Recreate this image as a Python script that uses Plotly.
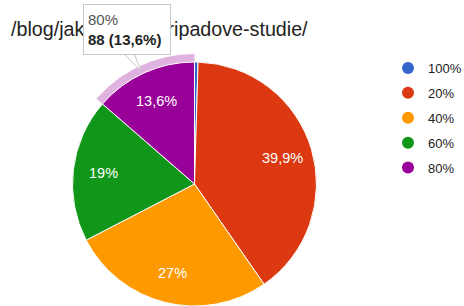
import numpy as np
import plotly.graph_objects as go

# ---- data ----
title_text = "/blog/jak-napsat-pripadove-studie/"
labels = ["100%", "20%", "40%", "60%", "80%"]
values = [3, 258, 175, 123, 88]
colors = ["#3366cc", "#dc3912", "#ff9900", "#109618", "#990099"]
highlight_index = 4  # slice hovered in the screenshot

W, H = 464, 306
CX, CY, R = 194.5, 184.0, 122.0
RING = 8.0
LABEL_R = 0.75
FONT = "Liberation Sans, Arial, sans-serif"

total = sum(values)


def fmt_pct(v):
    p = v / total * 100
    s = f"{p:.1f}"
    if s.endswith(".0"):
        s = s[:-2]
    return s.replace(".", ",") + "%"


fig = go.Figure()

# highlight ring around hovered slice, computed from the data
cum = np.concatenate([[0], np.cumsum(values)]) / total * 360
start, end = cum[highlight_index], cum[highlight_index + 1]
th = np.radians(np.linspace(start, end, 60))
xo = CX + (R + RING) * np.sin(th)
yo = CY - (R + RING) * np.cos(th)
xi = CX + R * np.sin(th[::-1])
yi = CY - R * np.cos(th[::-1])
fig.add_trace(go.Scatter(
    x=np.concatenate([xo, xi, xo[:1]]), y=np.concatenate([yo, yi, yo[:1]]),
    mode="lines", fill="toself", fillcolor="#e0b2e0",
    line=dict(width=0, color="#e0b2e0"), hoverinfo="skip", showlegend=False,
))

fig.add_trace(go.Pie(
    labels=labels, values=values, textinfo="none",
    marker=dict(colors=colors, line=dict(color="white", width=1)),
    sort=False, direction="clockwise", rotation=0,
    showlegend=False, hoverinfo="none",
    domain=dict(x=[(CX - R) / W, (CX + R) / W], y=[1 - (CY + R) / H, 1 - (CY - R) / H]),
))

# legend entries with round symbols
for i, (lab, col) in enumerate(zip(labels, colors)):
    fig.add_trace(go.Scatter(
        x=[None], y=[None], mode="markers", name=lab,
        marker=dict(color=col, size=12, symbol="circle"),
        legendgroup=f"g{i}", showlegend=True,
    ))

# slice labels placed Google-style, from the slice mid-angles
slice_labels = []
for i, v in enumerate(values):
    if v / total < 0.01:
        continue
    mid = np.radians((cum[i] + cum[i + 1]) / 2)
    slice_labels.append(dict(
        text=fmt_pct(v), x=CX + LABEL_R * R * np.sin(mid), y=CY - LABEL_R * R * np.cos(mid),
        xref="x", yref="y", showarrow=False, xanchor="center", yanchor="middle",
        font=dict(size=14.5, color="white", family=FONT)))

tip_text = (f"<span style='color:#555555'>{labels[highlight_index]}</span><br>"
            f"<b>{values[highlight_index]} ({fmt_pct(values[highlight_index])})</b>")

fig.update_layout(
    width=W, height=H,
    margin=dict(l=0, r=0, t=0, b=0, autoexpand=False),
    paper_bgcolor="white", plot_bgcolor="white",
    font=dict(family=FONT, color="#222222"),
    xaxis=dict(range=[0, W], visible=False, fixedrange=True),
    yaxis=dict(range=[H, 0], visible=False, fixedrange=True),
    showlegend=True,
    legend=dict(x=388 / W, y=1 - 53 / H, xanchor="left", yanchor="top",
                font=dict(size=13, color="#222222"), bgcolor="rgba(0,0,0,0)",
                traceorder="grouped", tracegroupgap=5, itemsizing="constant"),
    annotations=slice_labels + [
        dict(text=title_text, x=9, y=29, xref="x", yref="y", xanchor="left",
             yanchor="middle", showarrow=False,
             font=dict(size=19.7, color="#222222", family=FONT)),
        dict(text=tip_text, x=83, y=4, xref="x", yref="y", xanchor="left",
             yanchor="top", showarrow=False, align="left", width=78, height=41,
             bgcolor="white", bordercolor="#c8c8c8", borderwidth=1, borderpad=4,
             font=dict(size=15, color="#222222", family=FONT)),
    ],
    shapes=[
        dict(type="path", xref="x", yref="y", layer="above",
             path="M 123 53 L 141 71 L 134 53 Z",
             fillcolor="white", line=dict(color="#c8c8c8", width=1)),
    ],
)

fig.write_html("out.html", config={"displayModeBar": False},
               post_script="document.body.style.margin='0';")
